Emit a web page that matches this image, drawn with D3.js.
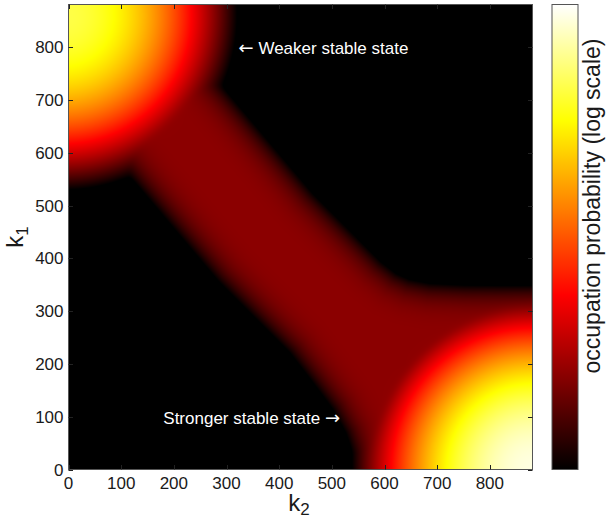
<!DOCTYPE html>
<html>
<head>
<meta charset="utf-8">
<script src="https://cdn.jsdelivr.net/npm/d3@7"></script>
<style>
  body { margin: 0; background: #fff; }
  text { font-family: "Liberation Sans", Arial, Helvetica, sans-serif; }
  .arrow { font-family: "DejaVu Sans", sans-serif; }
</style>
</head>
<body>
<div id="chart"></div>
<script>
// axis ticks (k2 horizontal, k1 vertical)
const xTicks = [0, 100, 200, 300, 400, 500, 600, 700, 800];
const yTicks = [0, 100, 200, 300, 400, 500, 600, 700, 800];
const axisMax = 881;

// the two stable states: centre [k2, k1],
// top level on the colour scale (0 = floor, 1 = max), radius where it reaches the floor
const peakCentres = [[-10, 860], [881, 0]];
const peakLevels = [0.82, 0.97];
const peakRadii = [330, 342];

// transition ridge between the states: centre line [k2, k1], level, half width
const ridgeMain = [[40, 812], [193, 654], [374, 440], [513, 301]];
const ridgeRight = [[513, 301], [560, 265], [610, 243], [670, 231], [750, 227], [881, 226]];
const ridgeDown = [[513, 301], [560, 240], [605, 180], [638, 120], [660, 60], [668, 0]];
const ridgeLevel = 0.205;
const ridgeHalfWidth = 122;

const annotations = [
  { parts: [["\u2190", true], [" Weaker stable state", false]], k2: 323, k1: 787 },
  { parts: [["Stronger stable state ", false], ["\u2192", true]], k2: 180, k1: 86 }
];

const width = 607, height = 518;
const svg = d3.select("#chart").append("svg").attr("width", width).attr("height", height);

const x = d3.scaleLinear().domain([0, axisMax]).range([68.5, 532.5]);
const y = d3.scaleLinear().domain([0, axisMax]).range([469.5, 4.5]);

// MATLAB "hot" colormap
function hot(t) {
  t = Math.max(0, Math.min(1, t));
  const r = Math.min(1, t / 0.375);
  const g = Math.max(0, Math.min(1, (t - 0.375) / 0.375));
  const b = Math.max(0, Math.min(1, (t - 0.75) / 0.25));
  return [r * 255, g * 255, b * 255];
}

function segDist(px, py, a, b) {
  const dx = b[0] - a[0], dy = b[1] - a[1];
  let t = ((px - a[0]) * dx + (py - a[1]) * dy) / (dx * dx + dy * dy);
  t = Math.max(0, Math.min(1, t));
  const ex = a[0] + t * dx - px, ey = a[1] + t * dy - py;
  return Math.sqrt(ex * ex + ey * ey);
}

const ridgeSegs = [];
[ridgeMain, ridgeRight, ridgeDown].forEach(path => {
  for (let i = 0; i < path.length - 1; i++) ridgeSegs.push([path[i], path[i + 1]]);
});

function level(k2, k1) {
  const s = 0.02;
  let sum = 0;
  peakCentres.forEach((c, i) => {
    const d = Math.hypot(k2 - c[0], k1 - c[1]) / peakRadii[i];
    const v = peakLevels[i] * (1 - d * d);
    sum += Math.exp(v / s);
  });
  let r = Infinity;
  ridgeSegs.forEach(sg => { r = Math.min(r, segDist(k2, k1, sg[0], sg[1])); });
  const q = r / ridgeHalfWidth;
  const rv = ridgeLevel * (1 - q * q * q * q);
  sum += Math.exp(rv / s);
  return s * Math.log(sum);
}

// heat map image
const x0 = Math.floor(x(0)), x1 = Math.ceil(x(axisMax));
const y0 = Math.floor(y(axisMax)), y1 = Math.ceil(y(0));
const cw = x1 - x0, ch = y1 - y0;
const canvas = document.createElement("canvas");
canvas.width = cw; canvas.height = ch;
const ctx = canvas.getContext("2d");
const img = ctx.createImageData(cw, ch);
for (let j = 0; j < ch; j++) {
  const k1 = y.invert(y0 + j + 0.5);
  for (let i = 0; i < cw; i++) {
    const k2 = x.invert(x0 + i + 0.5);
    const col = hot(level(k2, k1));
    const o = (j * cw + i) * 4;
    img.data[o] = col[0]; img.data[o + 1] = col[1]; img.data[o + 2] = col[2]; img.data[o + 3] = 255;
  }
}
ctx.putImageData(img, 0, 0);
svg.append("image")
  .attr("x", x0).attr("y", y0).attr("width", cw).attr("height", ch)
  .attr("preserveAspectRatio", "none")
  .attr("href", canvas.toDataURL());

// annotations
const notes = svg.selectAll(".note").data(annotations).enter().append("text")
  .attr("class", "note")
  .attr("x", d => x(d.k2)).attr("y", d => y(d.k1))
  .attr("fill", "#fff").attr("font-size", "17px");
notes.selectAll("tspan").data(d => d.parts).enter().append("tspan")
  .attr("class", p => p[1] ? "arrow" : null)
  .attr("font-size", p => p[1] ? "18px" : null)
  .text(p => p[0]);

// frame and ticks
svg.append("rect")
  .attr("x", x(0)).attr("y", y(axisMax))
  .attr("width", x(axisMax) - x(0)).attr("height", y(0) - y(axisMax))
  .attr("fill", "none").attr("stroke", "#555").attr("stroke-width", 1);

const tl = 4.5;
const tickG = svg.append("g").attr("stroke", "#222").attr("stroke-width", 1);
xTicks.forEach(t => {
  const px = Math.round(x(t)) + 0.5;
  tickG.append("line").attr("x1", px).attr("x2", px).attr("y1", y(0)).attr("y2", y(0) - tl);
  tickG.append("line").attr("x1", px).attr("x2", px).attr("y1", y(axisMax)).attr("y2", y(axisMax) + tl);
});
yTicks.forEach(t => {
  const py = Math.round(y(t)) + 0.5;
  tickG.append("line").attr("y1", py).attr("y2", py).attr("x1", x(0)).attr("x2", x(0) + tl);
  tickG.append("line").attr("y1", py).attr("y2", py).attr("x1", x(axisMax)).attr("x2", x(axisMax) - tl);
});

svg.selectAll(".xl").data(xTicks).enter().append("text")
  .attr("x", d => x(d)).attr("y", 489)
  .attr("text-anchor", "middle").attr("font-size", "17px").attr("fill", "#1a1a1a")
  .text(d => d);
svg.selectAll(".yl").data(yTicks).enter().append("text")
  .attr("x", 63.5).attr("y", d => y(d)).attr("dy", "0.36em")
  .attr("text-anchor", "end").attr("font-size", "17px").attr("fill", "#1a1a1a")
  .text(d => d);

// axis labels
const xLab = svg.append("text").attr("x", 299).attr("y", 510.5)
  .attr("text-anchor", "middle").attr("font-size", "24px").attr("fill", "#1a1a1a");
xLab.append("tspan").text("k");
xLab.append("tspan").attr("font-size", "17px").attr("dy", 4.5).text("2");

const yLab = svg.append("text").attr("transform", "translate(23,237) rotate(-90)")
  .attr("text-anchor", "middle").attr("font-size", "24px").attr("fill", "#1a1a1a");
yLab.append("tspan").text("k");
yLab.append("tspan").attr("font-size", "17px").attr("dy", 4.5).text("1");

// colour bar
const cb = d3.scaleLinear().domain([0, 1]).range([y(0), y(axisMax)]);
const grad = svg.append("defs").append("linearGradient")
  .attr("id", "hotgrad").attr("x1", 0).attr("x2", 0).attr("y1", 1).attr("y2", 0);
d3.range(0, 1.0001, 1 / 64).forEach(t => {
  const c = hot(t);
  grad.append("stop").attr("offset", t).attr("stop-color", d3.rgb(c[0], c[1], c[2]).formatHex());
});
svg.append("rect")
  .attr("x", 552).attr("y", cb(1)).attr("width", 26).attr("height", cb(0) - cb(1))
  .attr("fill", "url(#hotgrad)").attr("stroke", "#555").attr("stroke-width", 1);

svg.append("text").attr("transform", "translate(600,206) rotate(-90)")
  .attr("text-anchor", "middle").attr("font-size", "23px").attr("fill", "#1a1a1a")
  .text("occupation probability (log scale)");
</script>
</body>
</html>
